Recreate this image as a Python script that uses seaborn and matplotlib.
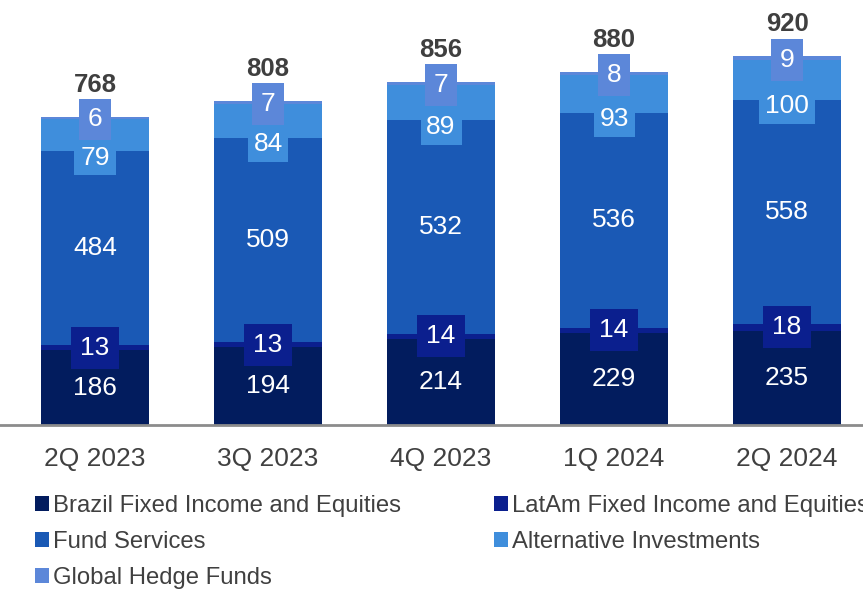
import matplotlib
matplotlib.use("Agg")
import matplotlib.pyplot as plt
import seaborn as sns
import numpy as np
import pandas as pd
from matplotlib.patches import Patch

quarters = ["2Q 2023", "3Q 2023", "4Q 2023", "1Q 2024", "2Q 2024"]
brazil = [186, 194, 214, 229, 235]
latam = [13, 13, 14, 14, 18]
fund_services = [484, 509, 532, 536, 558]
alternative = [79, 84, 89, 93, 100]
hedge = [6, 7, 7, 8, 9]
totals = [768, 808, 856, 880, 920]

series_names = ["Brazil Fixed Income and Equities", "LatAm Fixed Income and Equities",
                "Fund Services", "Alternative Investments", "Global Hedge Funds"]
series_values = [brazil, latam, fund_services, alternative, hedge]
colors = ["#021C5E", "#0B1F8E", "#1A59B5", "#3F8EDC", "#5C87D9"]

sns.set_theme(style="white")
plt.rcParams["font.family"] = ["Liberation Sans", "DejaVu Sans"]

df = pd.DataFrame({"quarter": quarters})
cum = np.zeros(len(quarters))
cums = []
for vals in series_values:
    cum = cum + np.array(vals)
    cums.append(cum.copy())

fig = plt.figure(figsize=(8.63, 5.91), dpi=100)
ax = fig.add_axes([0, 1 - 425 / 591, 1, 425 / 591])

# stacked bars: draw cumulative heights from the top layer down
for name, c, color in reversed(list(zip(series_names, cums, colors))):
    d = df.copy()
    d["value"] = c
    sns.barplot(data=d, x="quarter", y="value", color=color, width=0.624,
                saturation=1, ax=ax, errorbar=None, edgecolor="none", linewidth=0)

ax.set_xlim(-0.549, 4.439)
ax.set_ylim(0, 1060)

fs = 19
txt = dict(ha="center", va="center", color="white", fontsize=fs)
for i in range(len(quarters)):
    base_lat = brazil[i]
    base_fund = base_lat + latam[i]
    base_alt = base_fund + fund_services[i]
    base_hedge = base_alt + alternative[i]
    ax.text(i, brazil[i] / 2, str(brazil[i]), **txt)
    ax.text(i, base_lat + latam[i] / 2, str(latam[i]),
            bbox=dict(boxstyle="square,pad=0.34", fc=colors[1], ec="none"), **txt)
    ax.text(i, base_fund + fund_services[i] / 2, str(fund_services[i]), **txt)
    ax.text(i, base_alt - 16, str(alternative[i]),
            bbox=dict(boxstyle="square,pad=0.22", fc=colors[3], ec="none"), **txt)
    ax.text(i, base_hedge, str(hedge[i]),
            bbox=dict(boxstyle="square,pad=0.34", fc=colors[4], ec="none"), **txt)
    ax.text(i, totals[i] + 80, str(totals[i]), ha="center", va="center",
            color="#3F3F3F", fontsize=18.5, fontweight="bold")

for s in ["top", "right", "left"]:
    ax.spines[s].set_visible(False)
ax.spines["bottom"].set_color("#8C8C8C")
ax.spines["bottom"].set_linewidth(2)
ax.set_yticks([])
ax.set_xlabel("")
ax.set_ylabel("")
ax.tick_params(axis="x", length=0, pad=16, labelsize=19, labelcolor="#404040")

order = [0, 2, 4, 1, 3]
handles = [Patch(facecolor=colors[k], edgecolor="none") for k in order]
labels = [series_names[k] for k in order]
fig.legend(handles, labels, loc="upper left", bbox_to_anchor=(35 / 863, 1 - 495 / 591),
           ncol=2, frameon=False, fontsize=17.2, labelcolor="#404040",
           handlelength=0.58, handleheight=0.58, handletextpad=0.18,
           columnspacing=3.9, labelspacing=0.58, borderaxespad=0, borderpad=0)

fig.savefig("out.png", dpi=100)
